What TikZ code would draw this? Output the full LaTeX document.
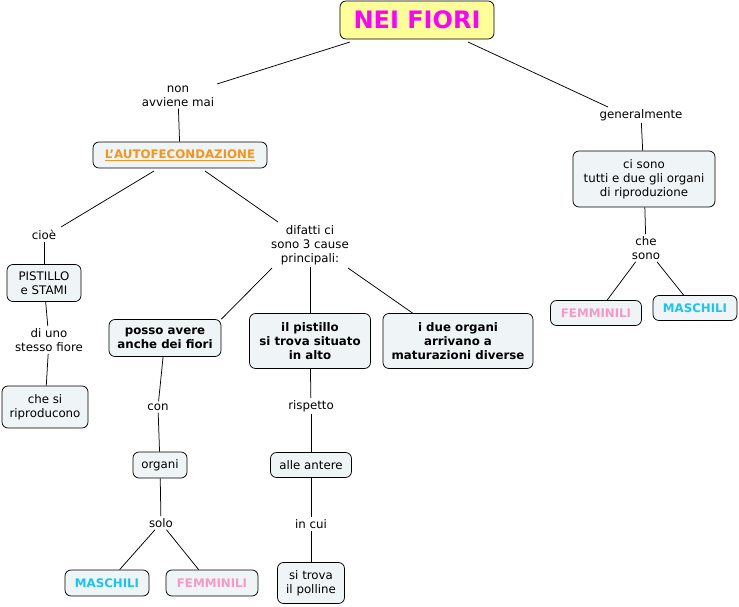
\documentclass[tikz,border=0pt]{standalone}
\usepackage{fontspec}
\setmainfont{DejaVu Sans}
\definecolor{boxfill}{HTML}{EFF4F6}
\definecolor{titlefill}{HTML}{FFFF99}
\definecolor{mag}{HTML}{FF00FF}
\definecolor{orng}{HTML}{F7941D}
\definecolor{pnk}{HTML}{F59AC6}
\definecolor{cyn}{HTML}{1CC4F2}
\begin{document}
\begin{tikzpicture}[x=1pt,y=-1pt,
  box/.style={draw=black,fill=boxfill,rounded corners=6pt,align=center,inner sep=2pt,
    font=\fontsize{11.8}{14.2}\selectfont,line width=0.75pt},
  lbl/.style={align=center,inner sep=2pt,font=\fontsize{11.8}{14.2}\selectfont},
  bx/.style={font=\fontsize{11.8}{14.2}\bfseries},
  conn/.style={draw=black,line width=0.75pt}]
\useasboundingbox (0,0) rectangle (739,606);
% nodes
\node[box,fill=titlefill,minimum width=154pt,minimum height=38pt,font=\fontsize{24}{26}\bfseries,text=mag] (top) at (417,20) {NEI FIORI};
\node[lbl] (non) at (178,96) {non\\avviene mai};
\node[box,bx,minimum width=174pt,minimum height=26pt,text=orng] (auto) at (180,155) {\underline{L'AUTOFECONDAZIONE}};
\node[lbl] (gen) at (641,115) {generalmente};
\node[box,minimum width=142pt,minimum height=56pt] (cisono) at (644,179) {ci sono\\tutti e due gli organi\\di riproduzione};
\node[lbl] (chesono) at (646,248) {che\\sono};
\node[box,bx,minimum width=91pt,minimum height=25pt,text=pnk] (femR) at (596,313) {FEMMINILI};
\node[box,bx,minimum width=84pt,minimum height=25pt,text=cyn] (masR) at (695,308) {MASCHILI};
\node[lbl] (cioe) at (44,235) {cioè};
\node[box,minimum width=74pt,minimum height=37pt] (pist) at (44,283) {PISTILLO\\e STAMI};
\node[lbl] (diuno) at (49,340) {di uno\\stesso fiore};
\node[box,minimum width=86pt,minimum height=42pt] (chesi) at (45,407) {che si\\riproducono};
\node[lbl] (difatti) at (310,245) {difatti ci\\sono 3 cause\\principali:};
\node[box,bx,minimum width=112pt,minimum height=37pt] (posso) at (165,338) {posso avere\\anche dei fiori};
\node[box,bx,minimum width=121pt,minimum height=55pt] (ilpist) at (310,341) {il pistillo\\si trova situato\\in alto};
\node[box,bx,minimum width=150pt,minimum height=55pt] (idue) at (458,341) {i due organi\\arrivano a\\maturazioni diverse};
\node[lbl] (con) at (158,407) {con};
\node[box,minimum width=54pt,minimum height=26pt] (organi) at (160,465) {organi};
\node[lbl] (solo) at (161,523) {solo};
\node[box,bx,minimum width=84pt,minimum height=26pt,text=cyn] (masL) at (107,583) {MASCHILI};
\node[box,bx,minimum width=92pt,minimum height=26pt,text=pnk] (femL) at (212,583) {FEMMINILI};
\node[lbl] (risp) at (311,406) {rispetto};
\node[box,minimum width=81pt,minimum height=25pt] (antere) at (311,465) {alle antere};
\node[lbl] (incui) at (311,524) {in cui};
\node[box,minimum width=67pt,minimum height=41pt] (polline) at (311,583) {si trova\\il polline};
% connectors
\coordinate (t1) at (350,42);
\coordinate (n1) at (217,84);
\draw[conn] (t1) -- (n1);
\coordinate (t2) at (468,42);
\coordinate (g1) at (608,107);
\draw[conn] (t2) -- (g1);
\draw[conn] (non) -- (auto);
\draw[conn] (gen) -- (cisono);
\coordinate (a1) at (154,171);
\coordinate (a2) at (205,171);
\coordinate (c1) at (61,227);
\coordinate (f1) at (278,222);
\draw[conn] (a1) -- (c1);
\draw[conn] (a2) -- (f1);
\draw[conn] (cioe) -- (pist);
\draw[conn] (pist) -- (diuno);
\draw[conn] (diuno) -- (chesi);
\coordinate (d1) at (272,268);
\draw[conn] (d1) -- (posso.north east);
\draw[conn] (difatti) -- (ilpist);
\coordinate (d3) at (348,268);
\draw[conn] (d3) -- ([xshift=30pt]idue.north west);
\draw[conn] (posso) -- (con);
\draw[conn] (con) -- (organi);
\draw[conn] (organi) -- (solo);
\draw[conn] (solo) -- ([xshift=55pt]masL.north west);
\draw[conn] (solo) -- ([xshift=33pt]femL.north west);
\draw[conn] (ilpist) -- (risp);
\draw[conn] (risp) -- (antere);
\draw[conn] (antere) -- (incui);
\draw[conn] (incui) -- (polline);
\draw[conn] (cisono) -- (chesono);
\draw[conn] (chesono) -- ([xshift=57pt]femR.north west);
\draw[conn] (chesono) -- ([xshift=31pt]masR.north west);
\end{tikzpicture}
\end{document}
